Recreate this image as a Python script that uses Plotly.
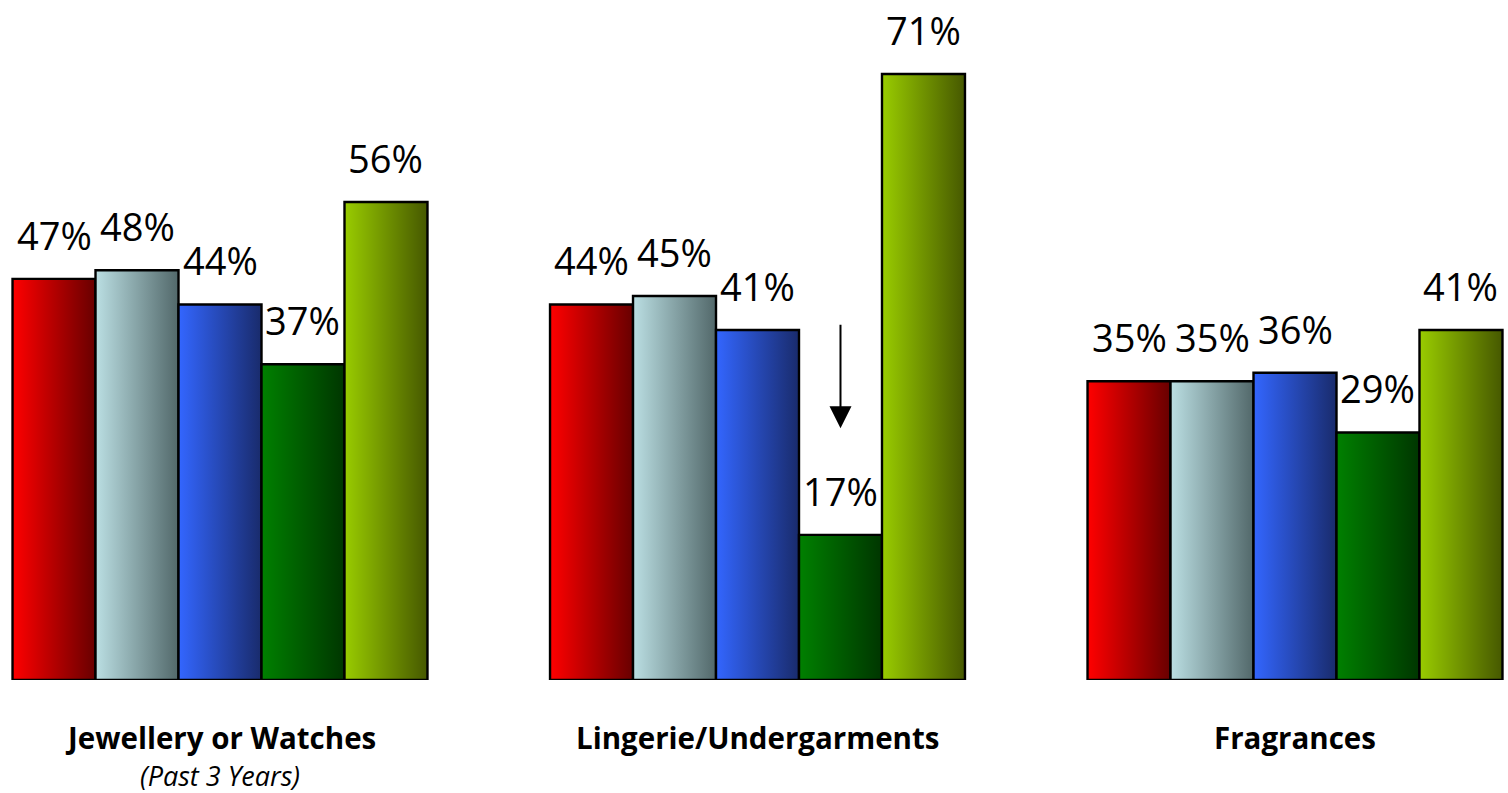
import plotly.graph_objects as go

categories = ["Jewellery or Watches", "Lingerie/Undergarments", "Fragrances"]
subtitles = ["(Past 3 Years)", "", ""]
series_names = ["Series 1", "Series 2", "Series 3", "Series 4", "Series 5"]
values = [
    [47, 44, 35],
    [48, 45, 35],
    [44, 41, 36],
    [37, 17, 29],
    [56, 71, 41],
]
gradient_left = ["#FF0000", "#BBDFE3", "#3366FF", "#008000", "#99CC00"]
gradient_right = ["#680000", "#52686A", "#192B6C", "#003600", "#465800"]

W = 0.1544  # bar width in group units
FONT = "Open Sans"

fig = go.Figure()
for i, name in enumerate(series_names):
    for g, cat in enumerate(categories):
        v = values[i][g]
        xc = g + (i - 2) * W
        xl, xr = xc - W / 2, xc + W / 2
        fig.add_trace(go.Scatter(
            x=[xl, xl, xr, xr, xl],
            y=[0, v, v, 0, 0],
            mode="lines",
            fill="toself",
            fillgradient=dict(type="horizontal",
                              colorscale=[[0, gradient_left[i]], [1, gradient_right[i]]]),
            line=dict(color="black", width=2.4),
            name=name,
            showlegend=False,
            hoverinfo="skip",
        ))
        fig.add_annotation(x=xc, y=v, xref="x", yref="y", text=f"{v}%",
                           showarrow=False, yanchor="middle", yshift=44,
                           font=dict(family=FONT, size=38, color="black"))

for g, cat in enumerate(categories):
    fig.add_annotation(x=g, y=0, xref="x", yref="y", text=f"<b>{cat}</b>",
                       showarrow=False, yanchor="middle", yshift=-57,
                       font=dict(family=FONT, size=29.5, color="black"))
    if subtitles[g]:
        fig.add_annotation(x=g, y=0, xref="x", yref="y", text=f"<i>{subtitles[g]}</i>",
                           showarrow=False, yanchor="middle", yshift=-95,
                           borderpad=0,
                           font=dict(family=FONT, size=27, color="black"))

# Down arrow above the low bar in Lingerie group
arrow_x = 1 + (3 - 2) * W
fig.add_annotation(x=arrow_x, y=29.5, ax=arrow_x, ay=41.8, xref="x", yref="y",
                   axref="x", ayref="y", text="", showarrow=True,
                   arrowhead=2, arrowsize=2.2, arrowwidth=2, arrowcolor="black",
                   standoff=0)

x0 = -220 / 537.5
x1 = x0 + 1508 / 537.5
fig.update_xaxes(range=[x0, x1], visible=False, fixedrange=True)
fig.update_yaxes(range=[0, 680 / 8.535], visible=False, fixedrange=True)
fig.update_layout(
    width=1508, height=793,
    margin=dict(l=0, r=0, t=0, b=113),
    paper_bgcolor="white", plot_bgcolor="white",
    showlegend=False,
)
fig.write_html("out.html", config={"displayModeBar": False},
               post_script="document.body.style.margin='0';")
